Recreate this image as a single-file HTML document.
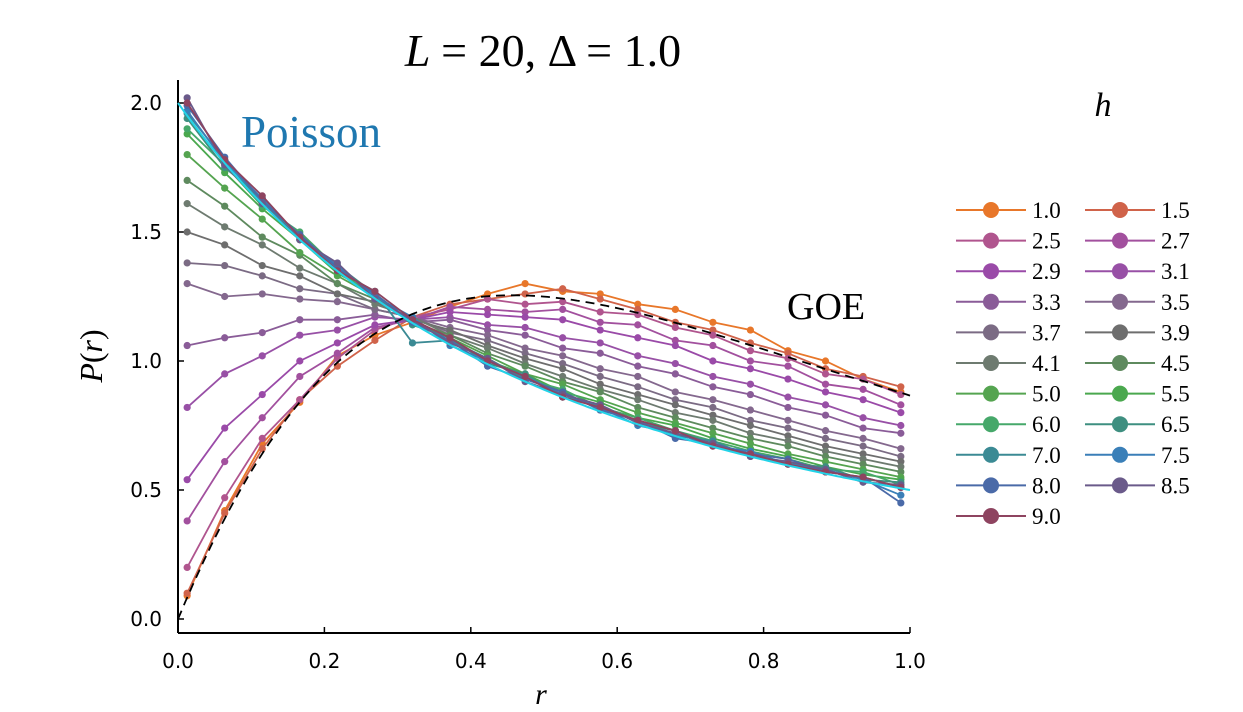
<!DOCTYPE html>
<html><head><meta charset="utf-8"><style>
body{margin:0;background:#fff;}
svg{display:block;font-family:"Liberation Serif",serif;}
.tk{font-family:"DejaVu Sans","Liberation Sans",sans-serif;font-size:20px;fill:#000;}
</style></head><body>
<svg id="chart" width="1243" height="712" viewBox="0 0 1243 712" xmlns="http://www.w3.org/2000/svg">
<text x="543" y="66" font-size="46" text-anchor="middle" font-style="italic">L <tspan font-style="normal">= 20, Δ = 1.0</tspan></text>
<text x="1103" y="116" font-size="34" font-style="italic" text-anchor="middle">h</text>
<text x="241" y="147" font-size="45" fill="#1f78b0">Poisson</text>
<text x="787" y="319" font-size="38">GOE</text>
<text x="541" y="704" font-size="30" font-style="italic" text-anchor="middle">r</text>
<text transform="translate(102,356) rotate(-90)" font-size="32" text-anchor="middle"><tspan font-style="italic">P</tspan>(<tspan font-style="italic">r</tspan>)</text>
<g id="plot"></g>
<g id="legend"></g>
</svg>
<script>
const rVals=[0.0125,0.0638,0.1151,0.1664,0.2177,0.2690,0.3203,0.3716,0.4229,0.4742,0.5255,0.5768,0.6281,0.6794,0.7307,0.7820,0.8333,0.8846,0.9359,0.9875];
const hLabels=["1.0","1.5","2.5","2.7","2.9","3.1","3.3","3.5","3.7","3.9","4.1","4.5","5.0","5.5","6.0","6.5","7.0","7.5","8.0","8.5","9.0"];
const colors=["#e8772a","#d0634a","#b0558e","#a2509e","#9a4aa8","#9850a6","#8a5c98","#84688e","#7b6b84","#6e6e6e","#6e7b70","#5e8a5e","#55a450","#4aa84e","#46a86a","#3e8f80","#3b8a94","#3a7fb8","#4a6aa8","#6a5a8a","#8e4460"];
const s1_0=[0.09,0.42,0.68,0.84,1.02,1.10,1.15,1.21,1.26,1.30,1.27,1.26,1.22,1.20,1.15,1.12,1.04,1.00,0.93,0.88];
const s1_5=[0.10,0.41,0.66,0.85,0.98,1.08,1.17,1.22,1.24,1.26,1.28,1.24,1.20,1.15,1.12,1.07,1.03,0.97,0.94,0.90];
const s2_5=[0.20,0.47,0.70,0.85,1.01,1.12,1.17,1.20,1.24,1.22,1.23,1.19,1.18,1.13,1.10,1.04,1.01,0.95,0.93,0.87];
const s2_7=[0.38,0.61,0.78,0.94,1.03,1.13,1.16,1.21,1.20,1.19,1.20,1.15,1.14,1.08,1.06,1.00,0.98,0.91,0.89,0.83];
const s2_9=[0.54,0.74,0.87,1.00,1.07,1.14,1.16,1.19,1.18,1.17,1.16,1.12,1.09,1.06,1.00,0.97,0.93,0.88,0.85,0.80];
const s3_1=[0.82,0.95,1.02,1.10,1.12,1.17,1.16,1.17,1.14,1.13,1.09,1.07,1.02,0.99,0.94,0.91,0.86,0.83,0.78,0.75];
const s3_3=[1.06,1.09,1.11,1.16,1.16,1.18,1.15,1.16,1.12,1.10,1.05,1.03,0.98,0.95,0.90,0.87,0.82,0.79,0.74,0.72];
const s3_5=[1.30,1.25,1.26,1.24,1.23,1.20,1.17,1.13,1.10,1.05,1.02,0.97,0.94,0.88,0.85,0.81,0.77,0.73,0.70,0.66];
const s3_7=[1.38,1.37,1.33,1.28,1.26,1.20,1.17,1.11,1.08,1.03,0.99,0.94,0.90,0.85,0.82,0.77,0.74,0.70,0.67,0.63];
const s3_9=[1.50,1.45,1.37,1.33,1.26,1.23,1.16,1.12,1.06,1.01,0.97,0.91,0.87,0.83,0.79,0.75,0.71,0.67,0.64,0.61];
const s4_1=[1.61,1.52,1.45,1.36,1.30,1.22,1.17,1.10,1.05,0.99,0.94,0.89,0.85,0.80,0.77,0.72,0.69,0.65,0.62,0.59];
const s4_5=[1.70,1.60,1.48,1.41,1.30,1.24,1.15,1.10,1.03,0.98,0.92,0.88,0.82,0.78,0.74,0.70,0.67,0.63,0.60,0.57];
const s5_0=[1.80,1.67,1.55,1.42,1.33,1.25,1.15,1.09,1.02,0.95,0.91,0.85,0.80,0.76,0.72,0.68,0.64,0.61,0.58,0.55];
const s5_5=[1.88,1.73,1.59,1.47,1.34,1.26,1.15,1.09,1.00,0.95,0.88,0.84,0.78,0.75,0.70,0.66,0.63,0.59,0.56,0.54];
const s6_0=[1.90,1.76,1.60,1.50,1.36,1.24,1.16,1.07,1.01,0.93,0.89,0.82,0.78,0.73,0.69,0.65,0.62,0.58,0.57,0.52];
const s6_5=[1.94,1.75,1.63,1.47,1.37,1.26,1.14,1.09,0.99,0.95,0.86,0.83,0.76,0.73,0.68,0.64,0.60,0.59,0.54,0.53];
const s7_0=[1.96,1.78,1.61,1.49,1.35,1.27,1.07,1.08,1.01,0.93,0.88,0.81,0.77,0.71,0.69,0.63,0.61,0.57,0.55,0.51];
const s7_5=[1.97,1.77,1.63,1.48,1.37,1.25,1.17,1.06,1.00,0.94,0.87,0.82,0.75,0.72,0.67,0.65,0.60,0.58,0.54,0.48];
const s8_0=[1.99,1.79,1.62,1.49,1.36,1.26,1.15,1.08,0.98,0.93,0.88,0.81,0.77,0.70,0.68,0.64,0.62,0.57,0.55,0.45];
const s8_5=[2.02,1.76,1.61,1.47,1.38,1.24,1.16,1.07,1.01,0.92,0.87,0.83,0.76,0.72,0.68,0.63,0.61,0.58,0.53,0.52];
const s9_0=[2.00,1.78,1.64,1.48,1.35,1.27,1.16,1.09,1.00,0.94,0.86,0.82,0.77,0.73,0.67,0.64,0.60,0.57,0.55,0.51];
const xTicks=[0,0.2,0.4,0.6,0.8,1.0];
const xTickLabels=["0.0","0.2","0.4","0.6","0.8","1.0"];
const yTicks=[0,0.5,1.0,1.5,2.0];
const yTickLabels=["0.0","0.5","1.0","1.5","2.0"];
const series=[s1_0,s1_5,s2_5,s2_7,s2_9,s3_1,s3_3,s3_5,s3_7,s3_9,s4_1,s4_5,s5_0,s5_5,s6_0,s6_5,s7_0,s7_5,s8_0,s8_5,s9_0];

const NS="http://www.w3.org/2000/svg";
const X=v=>178+v*732;
const Y=v=>619-v*258;
const plot=document.getElementById('plot');
function mk(tag,attrs,parent){const e=document.createElementNS(NS,tag);for(const k in attrs)e.setAttribute(k,attrs[k]);(parent||plot).appendChild(e);return e;}

let ax=mk('line',{x1:178,y1:80,x2:178,y2:633,stroke:'#000','stroke-width':2});


ax=mk('line',{x1:178,y1:633,x2:910,y2:633,stroke:'#000','stroke-width':2});


xTicks.forEach((t,i)=>{
  const l=mk('line',{x1:X(t),y1:633,x2:X(t),y2:627,stroke:'#000','stroke-width':1.5});
  
  
  const tx=mk('text',{x:X(t),y:668,'text-anchor':'middle',class:'tk'});
  tx.textContent=xTickLabels[i];
  
  
});
yTicks.forEach((t,i)=>{
  const l=mk('line',{x1:178,y1:Y(t),x2:184,y2:Y(t),stroke:'#000','stroke-width':1.5});
  
  
  const tx=mk('text',{x:162,y:Y(t)+7,'text-anchor':'end',class:'tk'});
  tx.textContent=yTickLabels[i];
  
  
});

series.forEach((s,si)=>{
  const g=mk('g',{});
  
  
  const d=s.map((v,i)=>(i?'L':'M')+X(rVals[i]).toFixed(1)+','+Y(v).toFixed(1)).join('');
  const p=mk('path',{d:d,fill:'none',stroke:colors[si],'stroke-width':1.8},g);
  
  
  s.forEach((v,i)=>{
    const c=mk('circle',{cx:X(rVals[i]),cy:Y(v),r:3.6,fill:colors[si]},g);
    
    
  });
});

let dG='',dP='';
for(let i=0;i<=200;i++){const r=i/200*1.0;
  const g=6.75*(r+r*r)/Math.pow(1+r+r*r,2.5);const p=2/((1+r)*(1+r));
  dG+=(i?'L':'M')+X(r).toFixed(1)+','+Y(g).toFixed(1);
  dP+=(i?'L':'M')+X(r).toFixed(1)+','+Y(p).toFixed(1);}
const goe=mk('path',{d:dG,fill:'none',stroke:'#000','stroke-width':1.8,'stroke-dasharray':'9,6'});


const poi=mk('path',{d:dP,fill:'none',stroke:'#22d3e8','stroke-width':2});



const leg=document.getElementById('legend');


hLabels.forEach((h,i)=>{
  const col=i%2,row=Math.floor(i/2);
  const x0=col?1085:956,y0=210+row*30.6;
  const g=mk('g',{},leg);
  
  
  mk('line',{x1:x0,y1:y0,x2:x0+70,y2:y0,stroke:colors[i],'stroke-width':2},g);
  mk('circle',{cx:x0+35,cy:y0,r:8,fill:colors[i]},g);
  const t=mk('text',{x:x0+76,y:y0+8,'font-size':23},g);
  t.textContent=h;
});
</script>
</body></html>
